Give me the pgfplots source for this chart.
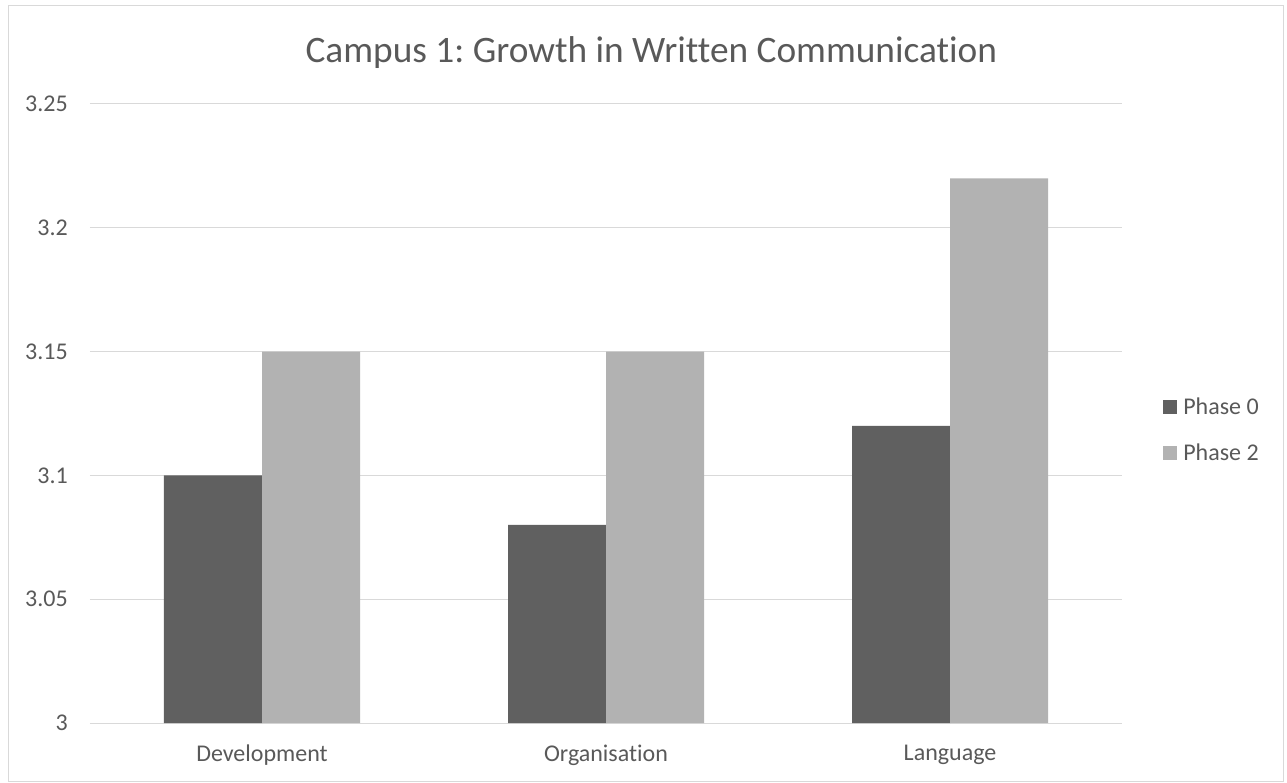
\documentclass[border=0pt]{standalone}
\usepackage{pgfplots}
\pgfplotsset{compat=1.18}
\usepackage{fontspec}
\setmainfont[Ligatures=NoCommon]{Carlito}
\frenchspacing
\definecolor{txt}{HTML}{595959}
\definecolor{grd}{HTML}{D9D9D9}
\definecolor{darkbar}{HTML}{606060}
\definecolor{lightbar}{HTML}{B2B2B2}
\begin{document}
\begin{tikzpicture}
\useasboundingbox (-67.5pt,-44.25pt) rectangle (897.75pt,542.25pt);
\draw[grd, line width=0.75pt] (-60.75pt,-43.5pt) rectangle (894.75pt,537.75pt);
\begin{axis}[
  at={(0pt,0pt)}, anchor=south west,
  scale only axis, width=774pt, height=464.25pt,
  ybar=0pt, bar width=73.5pt,
  xmin=-0.5, xmax=2.5, ymin=3, ymax=3.25,
  xtick=data, xticklabels={Development,Organisation,Language},
  ytick={3,3.05,3.1,3.15,3.2,3.25},
  yticklabels={3,3.05,3.1,3.15,3.2,3.25},
  major tick length=0pt,
  axis line style={draw=none},
  ymajorgrids, grid style={grd, line width=0.75pt},
  tick label style={font=\fontsize{18}{21}\selectfont, text=txt},
  yticklabel style={anchor=east, inner sep=0pt, xshift=-16.5pt},
  xticklabel style={anchor=north, inner sep=0pt, yshift=-16.5pt},
  /pgf/number format/assume math mode=true,
  legend style={draw=none, fill=none, at={(1.0397,0.4733)}, anchor=west,
    font=\fontsize{18}{21}\selectfont, text=txt, row sep=18.5pt, column sep=3.5pt,
    inner sep=0pt, nodes={inner sep=1pt}},
  legend cell align=left,
  legend image code/.code={\fill[#1] (0pt,-5.25pt) rectangle (10.5pt,5.25pt);},
  clip=true,
]
\addplot[fill=darkbar, draw=none] coordinates {(0,3.10) (1,3.08) (2,3.12)};
\addplot[fill=lightbar, draw=none] coordinates {(0,3.15) (1,3.15) (2,3.22)};
\legend{Phase 0, Phase 2}
\end{axis}
\node[anchor=base, text=txt, font=\fontsize{28}{33}\selectfont] at (421pt,495pt) {Campus 1: Growth in Written Communication};
\end{tikzpicture}
\end{document}
